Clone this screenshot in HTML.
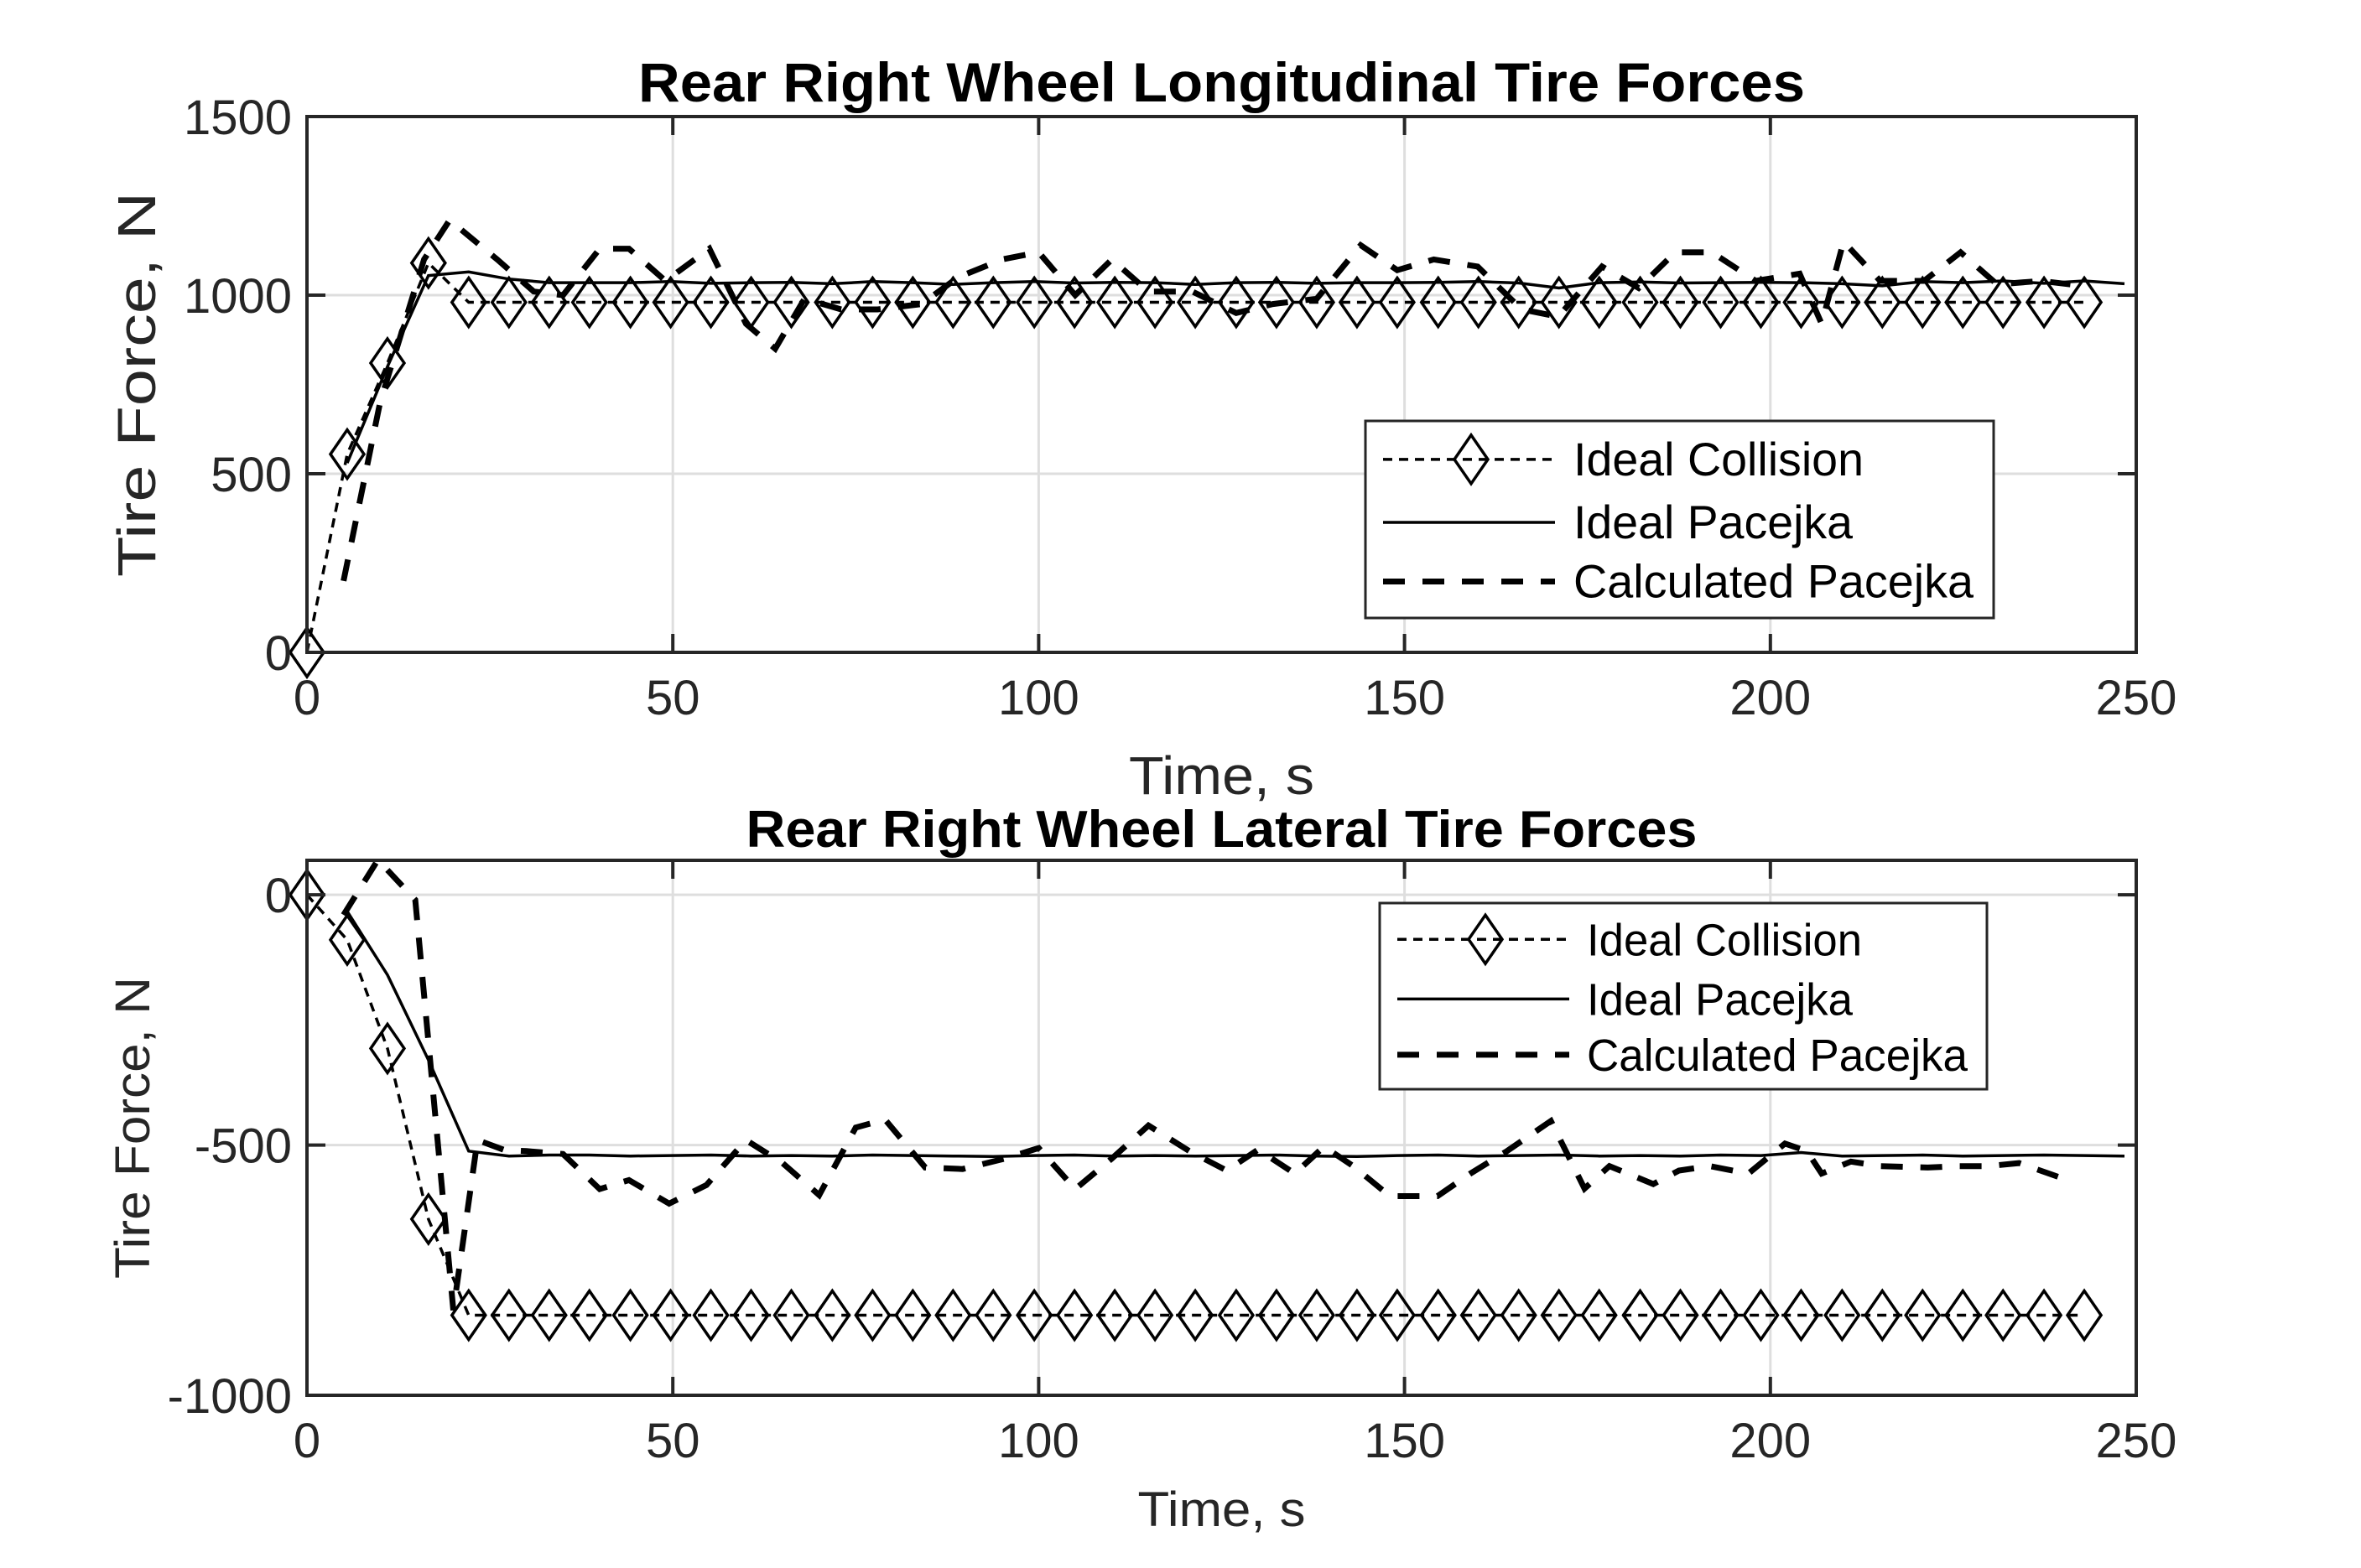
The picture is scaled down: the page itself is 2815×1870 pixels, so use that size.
<!DOCTYPE html>
<html><head><meta charset="utf-8"><style>
html,body{margin:0;padding:0;background:#fff;}
svg{display:block;font-family:"Liberation Sans",Arial,sans-serif;}
</style></head><body>
<svg id="fig" width="2815" height="1870" viewBox="0 0 2815 1870" xmlns="http://www.w3.org/2000/svg"></svg>
<script>
// ---------- data ----------
var timeGrid = [0,5.5,11,16.6,22.1,27.6,33.1,38.6,44.2,49.7,55.2,60.7,66.2,71.8,77.3,82.8,88.3,93.8,99.4,104.9,110.4,115.9,121.4,127,132.5,138,143.5,149,154.6,160.1,165.6,171.1,176.6,182.2,187.7,193.2,198.7,204.2,209.8,215.3,220.8,226.3,231.8,237.4,242.9,248.4];
var xTicks = [0,50,100,150,200,250];
var topYTicks = [0,500,1000,1500];
var botYTicks = [-1000,-500,0];
var legendLabels = ["Ideal Collision","Ideal Pacejka","Calculated Pacejka"];

var topCollision = [0,555,810,1090,980,980,980,980,980,980,980,980,980,980,980,980,980,980,980,980,980,980,980,980,980,980,980,980,980,980,980,980,980,980,980,980,980,980,980,980,980,980,980,980,980];
var topPacejka = [null,530,800,1055,1065,1045,1035,1035,1035,1038,1033,1035,1036,1032,1038,1035,1030,1035,1038,1034,1036,1035,1030,1035,1036,1033,1035,1035,1036,1038,1034,1020,1035,1037,1034,1035,1036,1035,1032,1026,1038,1035,1040,1033,1040,1032];
var topCalcT = [5,10,16,19.5,26,31,35,40,44,49,55,60,64,68,73,78,84,89,95,100,105,110,115,121,127,132,138,144,149,154,160,166,171,177,182,187,192,198,204,207,210,215,221,226,231,237,241];
var topCalc = [200,700,1100,1210,1100,1010,1000,1130,1130,1040,1130,920,850,990,960,960,975,1050,1100,1120,1000,1100,1010,1010,950,975,990,1140,1070,1100,1080,960,940,1080,1020,1120,1120,1040,1060,920,1150,1040,1040,1120,1030,1040,1030];

var botCollision = [0,-90,-307,-648,-840,-840,-840,-840,-840,-840,-840,-840,-840,-840,-840,-840,-840,-840,-840,-840,-840,-840,-840,-840,-840,-840,-840,-840,-840,-840,-840,-840,-840,-840,-840,-840,-840,-840,-840,-840,-840,-840,-840,-840,-840];
var botPacejka = [null,-33,-160,-330,-512,-522,-520,-520,-522,-521,-520,-522,-521,-522,-520,-521,-522,-523,-521,-520,-522,-521,-522,-521,-520,-522,-523,-521,-520,-522,-521,-520,-522,-521,-522,-520,-521,-515,-522,-521,-520,-522,-521,-520,-521,-522];
var botCalcT = [5,9.7,14.8,20,23.3,27,30,35,40,44,49.5,54.6,60,65,70,75,79,84.5,89.6,95.4,100,105,110,115,120.6,125.7,130,135,139,143,148,154.5,159,164,170,174.6,178,184,187.5,191.7,197,202,205,207,211,215,221.5,225.6,229.8,234,241];
var botCalc = [-40,70,-10,-830,-490,-510,-512,-518,-588,-570,-617,-580,-490,-536,-600,-465,-449,-545,-548,-527,-506,-588,-527,-461,-512,-551,-509,-557,-503,-542,-602,-602,-557,-512,-452,-587,-542,-578,-551,-542,-557,-497,-512,-557,-533,-542,-545,-542,-542,-536,-572];

// ---------- drawing ----------
var NS = "http://www.w3.org/2000/svg";
var svg = document.getElementById('fig');
function mk(tag, attrs, parent){
  var e = document.createElementNS(NS, tag);
  for (var k in attrs) e.setAttribute(k, attrs[k]);
  (parent || svg).appendChild(e);
  return e;
}
var AX = {left:366, right:2547};
function xs(v){ return AX.left + (v - 0) / 250 * (AX.right - AX.left); }

function drawPanel(cfg){
  var g = mk('g', {});
  
  
  function ys(v){ return cfg.bottom - (v - cfg.ymin) / (cfg.ymax - cfg.ymin) * (cfg.bottom - cfg.top); }
  xTicks.forEach(function(t){
    var l = mk('line', {x1:xs(t), x2:xs(t), y1:cfg.top, y2:cfg.bottom, stroke:'#dedede', 'stroke-width':3}, g);
    
    
  });
  cfg.yTicks.forEach(function(t){
    var l = mk('line', {x1:AX.left, x2:AX.right, y1:ys(t), y2:ys(t), stroke:'#dedede', 'stroke-width':3}, g);
    
    
  });
  function pathFrom(tArr, vArr){
    var d = '', started = false;
    for (var i = 0; i < vArr.length; i++){
      if (vArr[i] === null || vArr[i] === undefined) continue;
      d += (started ? 'L' : 'M') + xs(tArr[i]).toFixed(1) + ',' + ys(vArr[i]).toFixed(1);
      started = true;
    }
    return d;
  }
  var pc = mk('path', {d:pathFrom(cfg.calcT, cfg.calc), fill:'none', stroke:'#000', 'stroke-width':7, 'stroke-dasharray':'26 21'}, g);
  
  
  var pp = mk('path', {d:pathFrom(timeGrid, cfg.pacejka), fill:'none', stroke:'#000', 'stroke-width':3.5}, g);
  
  
  var pcol = mk('path', {d:pathFrom(timeGrid, cfg.collision), fill:'none', stroke:'#000', 'stroke-width':3.5, 'stroke-dasharray':'11 8'}, g);
  
  
  for (var i = 0; i < cfg.collision.length; i++){
    var cx = xs(timeGrid[i]), cy = ys(cfg.collision[i]);
    var m = mk('path', {d:'M'+cx+','+(cy-29)+'L'+(cx+20)+','+cy+'L'+cx+','+(cy+29)+'L'+(cx-20)+','+cy+'Z', fill:'none', stroke:'#000', 'stroke-width':3.5}, g);
    
    
  }
  var box = mk('rect', {x:AX.left, y:cfg.top, width:AX.right-AX.left, height:cfg.bottom-cfg.top, fill:'none', stroke:'#262626', 'stroke-width':4}, g);
  
  
  xTicks.forEach(function(t){
    var x = xs(t);
    mk('line', {x1:x, x2:x, y1:cfg.bottom, y2:cfg.bottom-22, stroke:'#262626', 'stroke-width':4}, g);
    mk('line', {x1:x, x2:x, y1:cfg.top, y2:cfg.top+22, stroke:'#262626', 'stroke-width':4}, g);
    var tx = mk('text', {x:x, y:cfg.bottom+74, 'font-size':58, fill:'#262626', 'text-anchor':'middle'}, g);
    tx.textContent = String(t);
    
    
  });
  cfg.yTicks.forEach(function(t){
    var y = ys(t);
    mk('line', {x1:AX.left, x2:AX.left+22, y1:y, y2:y, stroke:'#262626', 'stroke-width':4}, g);
    mk('line', {x1:AX.right, x2:AX.right-22, y1:y, y2:y, stroke:'#262626', 'stroke-width':4}, g);
    var tx = mk('text', {x:348, y:y+21, 'font-size':58, fill:'#262626', 'text-anchor':'end'}, g);
    tx.textContent = String(t);
    
    
  });
  var ti = mk('text', {x:(AX.left+AX.right)/2, y:cfg.titleY, 'font-size':cfg.titleSize, 'font-weight':'bold', fill:'#000', 'text-anchor':'middle', textLength:cfg.titleLen, lengthAdjust:'spacingAndGlyphs'}, g);
  ti.textContent = cfg.title;
  
  
  var xl = mk('text', {x:(AX.left+AX.right)/2, y:cfg.xlabelY, 'font-size':cfg.labelSize, fill:'#262626', 'text-anchor':'middle', textLength:cfg.xlabelLen, lengthAdjust:'spacingAndGlyphs'}, g);
  xl.textContent = 'Time, s';
  
  
  var cyl = (cfg.top+cfg.bottom)/2;
  var yl = mk('text', {x:0, y:0, 'font-size':cfg.labelSize, fill:'#262626', 'text-anchor':'middle', transform:'translate('+cfg.ylabelX+','+cyl+') rotate(-90)', textLength:cfg.ylabelLen, lengthAdjust:'spacingAndGlyphs'}, g);
  yl.textContent = 'Tire Force, N';
  
  
  var L = cfg.legend;
  var lg = mk('g', {}, g);
  
  
  mk('rect', {x:L.x, y:L.y, width:L.w, height:L.h, fill:'#fff', stroke:'#262626', 'stroke-width':3}, lg);
  var rows = [L.y+L.h*0.195, L.y+L.h*0.515, L.y+L.h*0.815];
  var styles = [
    {'stroke-width':3.5, 'stroke-dasharray':'11 8'},
    {'stroke-width':3.5},
    {'stroke-width':7, 'stroke-dasharray':'26 21'}
  ];
  for (var r = 0; r < 3; r++){
    var ey = rows[r];
    var eg = mk('g', {}, lg);
    
    
    var la = {x1:L.x+21, x2:L.x+226, y1:ey, y2:ey, stroke:'#000'};
    for (var k in styles[r]) la[k] = styles[r][k];
    mk('line', la, eg);
    if (r === 0){
      var mx = L.x+126;
      mk('path', {d:'M'+mx+','+(ey-29)+'L'+(mx+20)+','+ey+'L'+mx+','+(ey+29)+'L'+(mx-20)+','+ey+'Z', fill:'none', stroke:'#000', 'stroke-width':3.5}, eg);
    }
    var lt = mk('text', {x:L.x+L.tx, y:ey+19, 'font-size':L.fs, fill:'#000', textLength:L.lens[r], lengthAdjust:'spacingAndGlyphs'}, eg);
    lt.textContent = legendLabels[r];
  }
}

drawPanel({name:'longitudinal-panel', top:139, bottom:778, ymin:0, ymax:1500, yTicks:topYTicks,
  collision:topCollision, pacejka:topPacejka, calcT:topCalcT, calc:topCalc,
  title:'Rear Right Wheel Longitudinal Tire Forces', titleY:121, titleSize:66, titleLen:1391,
  xlabelY:947, xlabelLen:221, labelSize:64, ylabelX:185, ylabelLen:459,
  legend:{x:1628, y:502, w:749, h:235, tx:248, fs:56, lens:[346,333,477]}});
drawPanel({name:'lateral-panel', top:1026, bottom:1664, ymin:-1000, ymax:69, yTicks:botYTicks,
  collision:botCollision, pacejka:botPacejka, calcT:botCalcT, calc:botCalc,
  title:'Rear Right Wheel Lateral Tire Forces', titleY:1010, titleSize:62, titleLen:1134,
  xlabelY:1820, xlabelLen:200, labelSize:58, ylabelX:178, ylabelLen:360,
  legend:{x:1645, y:1077, w:724, h:222, tx:247, fs:54, lens:[328,317,454]}});
</script>
</body></html>
